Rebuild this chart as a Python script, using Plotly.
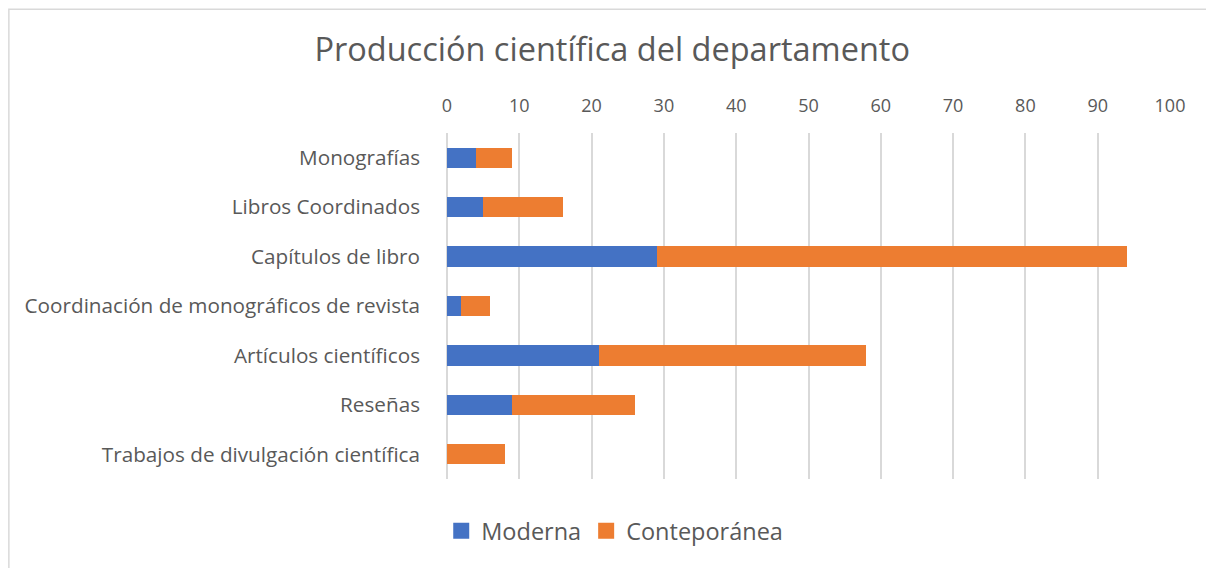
import plotly.graph_objects as go

categories = ["Monografías", "Libros Coordinados", "Capítulos de libro",
              "Coordinación de monográficos de revista", "Artículos científicos",
              "Reseñas", "Trabajos de divulgación científica"]
moderna = [4, 5, 29, 2, 21, 9, 0]
conteporanea = [5, 11, 65, 4, 37, 17, 8]
x_ticks = list(range(0, 101, 10))

FONT = "Open Sans"
GREY = "#595959"
BLUE = "#4472C4"
ORANGE = "#ED7D31"

fig = go.Figure()
fig.add_trace(go.Bar(y=categories, x=moderna, orientation="h", name="Moderna",
                     marker=dict(color=BLUE, line=dict(width=0)), showlegend=False))
fig.add_trace(go.Bar(y=categories, x=conteporanea, orientation="h", name="Conteporánea",
                     marker=dict(color=ORANGE, line=dict(width=0)), showlegend=False))

# legend entries with bigger square swatches (Excel style)
for name, col in [("Moderna", BLUE), ("Conteporánea", ORANGE)]:
    fig.add_trace(go.Scatter(x=[None], y=[None], mode="markers", name=name,
                             marker=dict(symbol="square", size=16, color=col)))

# page body has an 8px margin, so the figure is shifted by (8, 8)
fig.update_layout(
    barmode="stack",
    bargap=0.59,
    width=1206, height=560,
    margin=dict(l=439, r=44, t=125, b=89),
    paper_bgcolor="white", plot_bgcolor="white",
    font=dict(family=FONT, color=GREY, size=19),
    title=dict(text="Producción científica del departamento", x=0.501, xanchor="center",
               y=0.925, yanchor="middle", font=dict(size=32.5, color=GREY, family=FONT)),
    legend=dict(orientation="h", x=0.232, xanchor="center", y=-0.15, yanchor="middle",
                font=dict(size=23.5, color=GREY), traceorder="normal", itemwidth=30),
    showlegend=True,
)

fig.update_xaxes(range=[0, 100], tickvals=x_ticks, side="top",
                 showgrid=True, gridcolor="#d9d9d9", gridwidth=1.5,
                 zeroline=True, zerolinecolor="#d9d9d9", zerolinewidth=1.5,
                 showline=False, ticks="", ticklabelstandoff=16,
                 tickfont=dict(size=18, color=GREY))
fig.update_yaxes(autorange="reversed", showgrid=False, showline=False, ticks="",
                 ticklabelstandoff=26, tickfont=dict(size=20.7, color=GREY))

# chart border
fig.add_shape(type="rect", xref="paper", yref="paper",
              x0=-0.606, x1=1.07, y0=-0.26, y1=1.358,
              line=dict(color="#d9d9d9", width=1.5), layer="below")

fig.write_html("out.html")
